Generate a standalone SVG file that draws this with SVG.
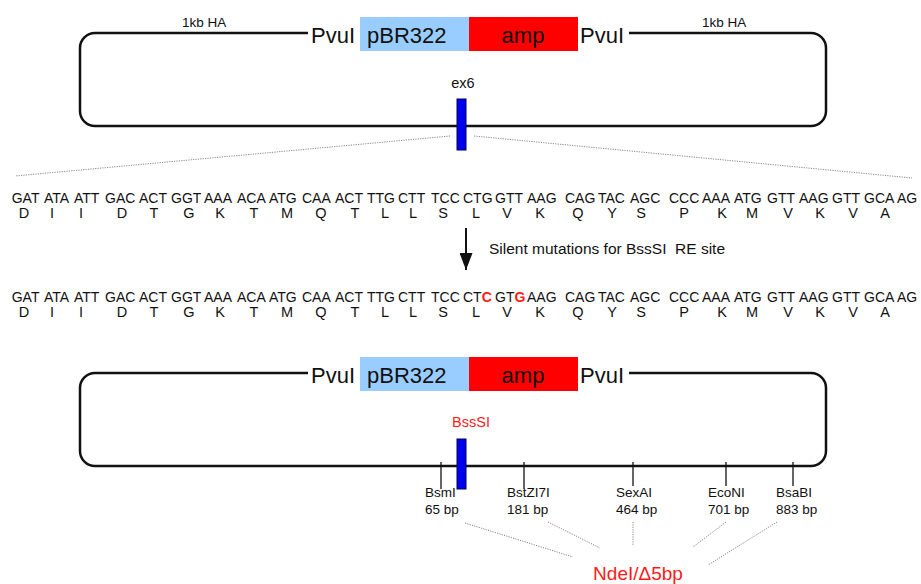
<svg xmlns="http://www.w3.org/2000/svg" width="921" height="584" viewBox="0 0 921 584">
<style>
text{font-family:"Liberation Sans",Arial,sans-serif;fill:#111}
.bb{stroke:#111;stroke-width:2.5;fill:none}
.pv{font-size:22px}
.ha{font-size:13.5px}
.seq{font-size:14px}
.aa{font-size:14.5px;text-anchor:middle}
.red{fill:#ff1a1a}
.dot{stroke:#888;stroke-width:1;stroke-dasharray:1.2 1.2;fill:none}
.tick{stroke:#111;stroke-width:1.3}
.lbl{font-size:13.5px}
.exon{fill:#0000ee;stroke:#000055;stroke-width:1}
</style>
<defs>
<marker id="ah" viewBox="0 0 17 13" refX="17" refY="6.5" markerWidth="17" markerHeight="13" markerUnits="userSpaceOnUse" orient="auto">
<path d="M0,0 L17,6.5 L0,13 Z" fill="#111"/>
</marker>
</defs>

<g id="plasmid-top">
<path class="bb" d="M308,33 H95 A15,15 0 0 0 80,48 V111 A15,15 0 0 0 95,126 H811 A15,15 0 0 0 826,111 V48 A15,15 0 0 0 811,33 H629"/>
<text class="ha" x="182" y="27">1kb HA</text>
<text class="ha" x="702" y="27">1kb HA</text>
<text class="pv" x="311" y="43">PvuI</text>
<rect x="360" y="17" width="109" height="34" fill="#99ccff"/>
<text class="pv" x="367" y="43">pBR322</text>
<rect x="469" y="17" width="109" height="34" fill="#ff0000"/>
<text class="pv" x="523" y="43" text-anchor="middle">amp</text>
<text class="pv" x="580" y="43">PvuI</text>
<text x="463" y="88" font-size="14.5" text-anchor="middle">ex6</text>
<rect class="exon" x="457" y="99" width="9" height="51"/>
</g>

<g id="connectors">
<line class="dot" x1="450" y1="136" x2="15" y2="176"/>
<line class="dot" x1="474" y1="136" x2="912" y2="178"/>
<line x1="466" y1="228" x2="466" y2="270" stroke="#111" stroke-width="2" marker-end="url(#ah)"/>
<line class="dot" x1="465" y1="523" x2="573" y2="557"/>
<line class="dot" x1="548" y1="522" x2="600" y2="548"/>
<line class="dot" x1="633" y1="522" x2="633" y2="546"/>
<line class="dot" x1="726" y1="522" x2="693" y2="547"/>
<line class="dot" x1="777" y1="522" x2="708" y2="565"/>
</g>

<g id="seq-original">
<text class="seq" y="203"><tspan x="11.7">GAT</tspan><tspan x="44">ATA</tspan><tspan x="74">ATT</tspan><tspan x="105">GAC</tspan><tspan x="139">ACT</tspan><tspan x="171">GGT</tspan><tspan x="204">AAA</tspan><tspan x="237">ACA</tspan><tspan x="269">ATG</tspan><tspan x="302">CAA</tspan><tspan x="335">ACT</tspan><tspan x="367">TTG</tspan><tspan x="398">CTT</tspan><tspan x="431">TCC</tspan><tspan x="463">CTG</tspan><tspan x="495">GTT</tspan><tspan x="527">AAG</tspan><tspan x="565">CAG</tspan><tspan x="598">TAC</tspan><tspan x="630">AGC</tspan><tspan x="669">CCC</tspan><tspan x="702">AAA</tspan><tspan x="734">ATG</tspan><tspan x="767">GTT</tspan><tspan x="799">AAG</tspan><tspan x="832">GTT</tspan><tspan x="864">GCA</tspan><tspan x="897">AG</tspan></text>
<text class="aa" y="218"><tspan x="24">D</tspan><tspan x="52">I</tspan><tspan x="81">I</tspan><tspan x="122">D</tspan><tspan x="154">T</tspan><tspan x="189">G</tspan><tspan x="220">K</tspan><tspan x="254">T</tspan><tspan x="287">M</tspan><tspan x="321">Q</tspan><tspan x="355">T</tspan><tspan x="385">L</tspan><tspan x="413">L</tspan><tspan x="443">S</tspan><tspan x="476">L</tspan><tspan x="507">V</tspan><tspan x="540">K</tspan><tspan x="578">Q</tspan><tspan x="612">Y</tspan><tspan x="641">S</tspan><tspan x="684">P</tspan><tspan x="722">K</tspan><tspan x="752">M</tspan><tspan x="788">V</tspan><tspan x="820">K</tspan><tspan x="853">V</tspan><tspan x="885">A</tspan></text>
</g>

<g id="mutation-note">
<text x="489" y="254" font-size="15.5" xml:space="preserve">Silent mutations for BssSI  RE site</text>
</g>

<g id="seq-mutated">
<text class="seq" y="302"><tspan x="11.7">GAT</tspan><tspan x="44">ATA</tspan><tspan x="74">ATT</tspan><tspan x="105">GAC</tspan><tspan x="139">ACT</tspan><tspan x="171">GGT</tspan><tspan x="204">AAA</tspan><tspan x="237">ACA</tspan><tspan x="269">ATG</tspan><tspan x="302">CAA</tspan><tspan x="335">ACT</tspan><tspan x="367">TTG</tspan><tspan x="398">CTT</tspan><tspan x="431">TCC</tspan><tspan x="463">CT</tspan><tspan class="red" font-weight="bold">C</tspan><tspan x="495">GT</tspan><tspan class="red" font-weight="bold">G</tspan><tspan x="527">AAG</tspan><tspan x="565">CAG</tspan><tspan x="598">TAC</tspan><tspan x="630">AGC</tspan><tspan x="669">CCC</tspan><tspan x="702">AAA</tspan><tspan x="734">ATG</tspan><tspan x="767">GTT</tspan><tspan x="799">AAG</tspan><tspan x="832">GTT</tspan><tspan x="864">GCA</tspan><tspan x="897">AG</tspan></text>
<text class="aa" y="317"><tspan x="24">D</tspan><tspan x="52">I</tspan><tspan x="81">I</tspan><tspan x="122">D</tspan><tspan x="154">T</tspan><tspan x="189">G</tspan><tspan x="220">K</tspan><tspan x="254">T</tspan><tspan x="287">M</tspan><tspan x="321">Q</tspan><tspan x="355">T</tspan><tspan x="385">L</tspan><tspan x="413">L</tspan><tspan x="443">S</tspan><tspan x="476">L</tspan><tspan x="507">V</tspan><tspan x="540">K</tspan><tspan x="578">Q</tspan><tspan x="612">Y</tspan><tspan x="641">S</tspan><tspan x="684">P</tspan><tspan x="722">K</tspan><tspan x="752">M</tspan><tspan x="788">V</tspan><tspan x="820">K</tspan><tspan x="853">V</tspan><tspan x="885">A</tspan></text>
</g>

<g id="plasmid-bottom">
<path class="bb" d="M308,373 H95 A15,15 0 0 0 80,388 V451 A15,15 0 0 0 95,466 H811 A15,15 0 0 0 826,451 V388 A15,15 0 0 0 811,373 H629"/>
<text class="pv" x="311" y="383">PvuI</text>
<rect x="360" y="357" width="109" height="34" fill="#99ccff"/>
<text class="pv" x="367" y="383">pBR322</text>
<rect x="469" y="357" width="109" height="34" fill="#ff0000"/>
<text class="pv" x="523" y="383" text-anchor="middle">amp</text>
<text class="pv" x="580" y="383">PvuI</text>
<text class="red" x="471" y="427" font-size="14.5" text-anchor="middle">BssSI</text>
<rect class="exon" x="457" y="439" width="9" height="50"/>
</g>

<g id="site-BsmI">
<line class="tick" x1="441" y1="462" x2="441" y2="489"/>
<text class="lbl" x="425" y="497">BsmI</text>
<text class="lbl" x="425" y="514">65 bp</text>
</g>
<g id="site-BstZI7I">
<line class="tick" x1="524" y1="462" x2="524" y2="489"/>
<text class="lbl" x="507" y="497">BstZI7I</text>
<text class="lbl" x="507" y="514">181 bp</text>
</g>
<g id="site-SexAI">
<line class="tick" x1="633" y1="462" x2="633" y2="486"/>
<text class="lbl" x="616" y="497">SexAI</text>
<text class="lbl" x="616" y="514">464 bp</text>
</g>
<g id="site-EcoNI">
<line class="tick" x1="726" y1="462" x2="726" y2="486"/>
<text class="lbl" x="708" y="497">EcoNI</text>
<text class="lbl" x="708" y="514">701 bp</text>
</g>
<g id="site-BsaBI">
<line class="tick" x1="793" y1="462" x2="793" y2="486"/>
<text class="lbl" x="776" y="497">BsaBI</text>
<text class="lbl" x="776" y="514">883 bp</text>
</g>

<g id="NdeI">
<text class="red" x="638" y="580" font-size="19" text-anchor="middle">NdeI/Δ5bp</text>
</g>
</svg>
